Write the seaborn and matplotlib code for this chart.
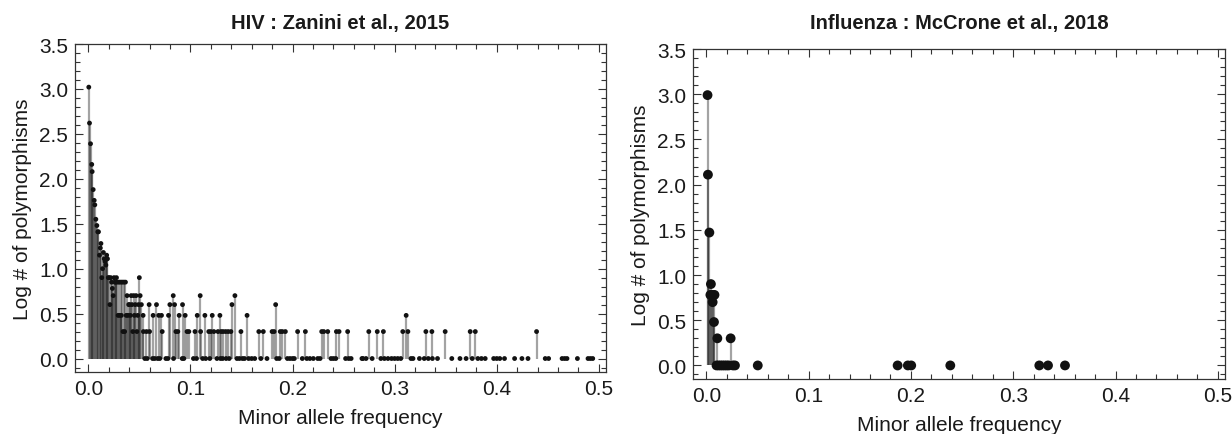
import numpy as np
import pandas as pd
import matplotlib
matplotlib.use("Agg")
import matplotlib.pyplot as plt
import seaborn as sns
from matplotlib.ticker import MultipleLocator

# HIV (Zanini et al., 2015): dense low-frequency part
hiv_freq_low = [0.0005, 0.0012, 0.0022, 0.0034, 0.0038, 0.0048, 0.0058, 0.0064, 0.0074, 0.0084,
                0.0093, 0.0100, 0.0110, 0.0118, 0.0124, 0.0132, 0.0140, 0.0148, 0.0156, 0.0164,
                0.0172, 0.0180, 0.0188, 0.0196, 0.0204, 0.0212, 0.0220, 0.0228, 0.0236, 0.0244,
                0.0252, 0.0260, 0.0268, 0.0276, 0.0284, 0.0292, 0.0300, 0.0308, 0.0316, 0.0324,
                0.0332, 0.0340, 0.0348, 0.0356, 0.0364, 0.0372, 0.0380, 0.0388, 0.0396, 0.0404,
                0.0412, 0.0420, 0.0428, 0.0436, 0.0444, 0.0452, 0.0460, 0.0468, 0.0476, 0.0484,
                0.0492, 0.0500, 0.0508]
hiv_log_low = [3.02, 2.62, 2.39, 2.16, 2.08, 1.88, 1.76, 1.71, 1.55, 1.48,
               1.41, 1.41, 1.15, 1.23, 1.28, 0.90, 1.00, 1.18, 1.11, 1.08,
               1.04, 1.15, 1.11, 0.90, 0.90, 0.60, 0.90, 0.85, 0.78, 0.70,
               0.90, 0.85, 0.85, 0.90, 0.85, 0.48, 0.85, 0.48, 0.85, 0.48,
               0.85, 0.30, 0.85, 0.30, 0.85, 0.48, 0.70, 0.48, 0.60, 0.60,
               0.48, 0.70, 0.60, 0.30, 0.70, 0.48, 0.60, 0.70, 0.30, 0.48,
               0.60, 0.90, 0.70]

# HIV: sparse tail
hiv_freq_tail = [0.0520, 0.0537, 0.0540, 0.0554, 0.0570, 0.0577, 0.0596, 0.0600, 0.0630, 0.0635,
                 0.0650, 0.0668, 0.0680, 0.0690, 0.0700, 0.0717, 0.0724, 0.0760, 0.0780, 0.0786,
                 0.0799, 0.0832, 0.0835, 0.0845, 0.0858, 0.0877, 0.0890, 0.0920, 0.0923, 0.0936,
                 0.0949, 0.0967, 0.0985, 0.1030, 0.1045, 0.1060, 0.1067, 0.1096, 0.1100, 0.1120,
                 0.1142, 0.1150, 0.1180, 0.1190, 0.1200, 0.1214, 0.1230, 0.1260, 0.1270, 0.1289,
                 0.1295, 0.1300, 0.1316, 0.1320, 0.1345, 0.1350, 0.1370, 0.1380, 0.1397, 0.1407,
                 0.1436, 0.1456, 0.1480, 0.1495, 0.1510, 0.1530, 0.1555, 0.1570, 0.1600, 0.1630,
                 0.1670, 0.1690, 0.1714, 0.1750, 0.1800, 0.1820, 0.1835, 0.1845, 0.1870, 0.1880,
                 0.1900, 0.1930, 0.1950, 0.1975, 0.2000, 0.2018, 0.2050, 0.2096, 0.2126, 0.2140,
                 0.2170, 0.2204, 0.2247, 0.2270, 0.2286, 0.2306, 0.2345, 0.2377, 0.2400, 0.2424,
                 0.2430, 0.2456, 0.2520, 0.2540, 0.2550, 0.2574, 0.2680, 0.2690, 0.2720, 0.2747,
                 0.2780, 0.2830, 0.2865, 0.2890, 0.2900, 0.2935, 0.2970, 0.3000, 0.3030, 0.3060,
                 0.3080, 0.3113, 0.3130, 0.3160, 0.3180, 0.3243, 0.3290, 0.3306, 0.3330, 0.3365,
                 0.3370, 0.3420, 0.3495, 0.3560, 0.3640, 0.3700, 0.3740, 0.3760, 0.3790, 0.3815,
                 0.3850, 0.3887, 0.3970, 0.4000, 0.4030, 0.4076, 0.4175, 0.4247, 0.4306, 0.4390,
                 0.4475, 0.4508, 0.4640, 0.4665, 0.4688, 0.4790, 0.4894, 0.4917, 0.4940]
hiv_log_tail = [0.60, 0.48, 0.30, 0.0, 0.30, 0.0, 0.60, 0.30, 0.0, 0.48,
                0.0, 0.60, 0.0, 0.48, 0.0, 0.48, 0.30, 0.0, 0.0, 0.48,
                0.60, 0.70, 0.0, 0.60, 0.30, 0.30, 0.48, 0.0, 0.60, 0.0,
                0.48, 0.30, 0.30, 0.0, 0.30, 0.0, 0.48, 0.70, 0.30, 0.0,
                0.48, 0.0, 0.30, 0.0, 0.30, 0.48, 0.30, 0.0, 0.30, 0.48,
                0.0, 0.30, 0.0, 0.30, 0.30, 0.0, 0.30, 0.0, 0.30, 0.60,
                0.70, 0.0, 0.0, 0.30, 0.0, 0.0, 0.48, 0.0, 0.0, 0.0,
                0.30, 0.0, 0.30, 0.0, 0.30, 0.30, 0.60, 0.0, 0.0, 0.30,
                0.30, 0.30, 0.0, 0.0, 0.0, 0.0, 0.30, 0.0, 0.30, 0.0,
                0.0, 0.0, 0.0, 0.0, 0.30, 0.30, 0.30, 0.0, 0.0, 0.0,
                0.30, 0.30, 0.0, 0.30, 0.0, 0.0, 0.0, 0.0, 0.0, 0.30,
                0.0, 0.30, 0.0, 0.30, 0.0, 0.0, 0.0, 0.0, 0.0, 0.0,
                0.30, 0.48, 0.30, 0.0, 0.0, 0.0, 0.0, 0.30, 0.0, 0.30,
                0.0, 0.0, 0.30, 0.0, 0.0, 0.0, 0.30, 0.0, 0.30, 0.0,
                0.0, 0.0, 0.0, 0.0, 0.0, 0.0, 0.0, 0.0, 0.0, 0.30,
                0.0, 0.0, 0.0, 0.0, 0.0, 0.0, 0.0, 0.0, 0.0]

# Influenza (McCrone et al., 2018)
flu_freq = [0.0012, 0.0016, 0.0030, 0.0040, 0.0045, 0.0060, 0.0062, 0.0080, 0.0075, 0.0108,
            0.0238, 0.0100, 0.0120, 0.0140, 0.0160, 0.0180, 0.0200, 0.0220, 0.0260, 0.0280,
            0.0503, 0.1870, 0.1970, 0.2003, 0.2385, 0.3255, 0.3340, 0.3506]
flu_log = [2.99, 2.11, 1.47, 0.78, 0.90, 0.78, 0.70, 0.78, 0.48, 0.30,
           0.30, 0.0, 0.0, 0.0, 0.0, 0.0, 0.0, 0.0, 0.0, 0.0,
           0.0, 0.0, 0.0, 0.0, 0.0, 0.0, 0.0, 0.0]

sns.set_style("ticks")
plt.rcParams["font.family"] = ["Liberation Sans", "DejaVu Sans"]
text_color = "#1a1a1a"

fig = plt.figure(figsize=(12.32, 4.35), dpi=100)
ax1 = fig.add_axes([75 / 1232, 62 / 435, 531 / 1232, 328 / 435])
ax2 = fig.add_axes([693 / 1232, 55 / 435, 532 / 1232, 330 / 435])


def stem_panel(ax, freq, logn, dot_size, title, title_pad, xlabel_pad):
    df = pd.DataFrame({"freq": freq, "logn": logn})
    ax.vlines(df["freq"], 0, df["logn"], color="black", alpha=0.36, lw=1.6, zorder=1)
    sns.scatterplot(data=df, x="freq", y="logn", ax=ax, color="#111111", s=dot_size,
                    edgecolor="none", linewidth=0, zorder=3, legend=False)
    ax.set_xlim(-0.013, 0.507)
    ax.set_ylim(-0.15, 3.5)
    ax.xaxis.set_major_locator(MultipleLocator(0.1))
    ax.xaxis.set_minor_locator(MultipleLocator(0.02))
    ax.yaxis.set_major_locator(MultipleLocator(0.5))
    ax.yaxis.set_minor_locator(MultipleLocator(0.1))
    ax.tick_params(which="both", direction="in", top=True, right=True, color="#333333",
                   labelsize=15, labelcolor=text_color, width=0.8)
    ax.tick_params(which="major", length=6, pad=5)
    ax.tick_params(which="minor", length=3.5)
    for sp in ax.spines.values():
        sp.set_linewidth(0.9)
        sp.set_color("#333333")
    ax.set_title(title, fontweight="bold", fontsize=14.5, color=text_color, pad=title_pad)
    ax.set_xlabel("Minor allele frequency", fontsize=15, color=text_color, labelpad=xlabel_pad)
    ax.set_ylabel("Log # of polymorphisms", fontsize=15, color=text_color, labelpad=5)


stem_panel(ax1, hiv_freq_low + hiv_freq_tail, hiv_log_low + hiv_log_tail, 12,
           "HIV : Zanini et al., 2015", 11.5, 7.5)
stem_panel(ax2, flu_freq, flu_log, 50, "Influenza : McCrone et al., 2018", 15, 7.5)

fig.savefig("out.png", dpi=100)
